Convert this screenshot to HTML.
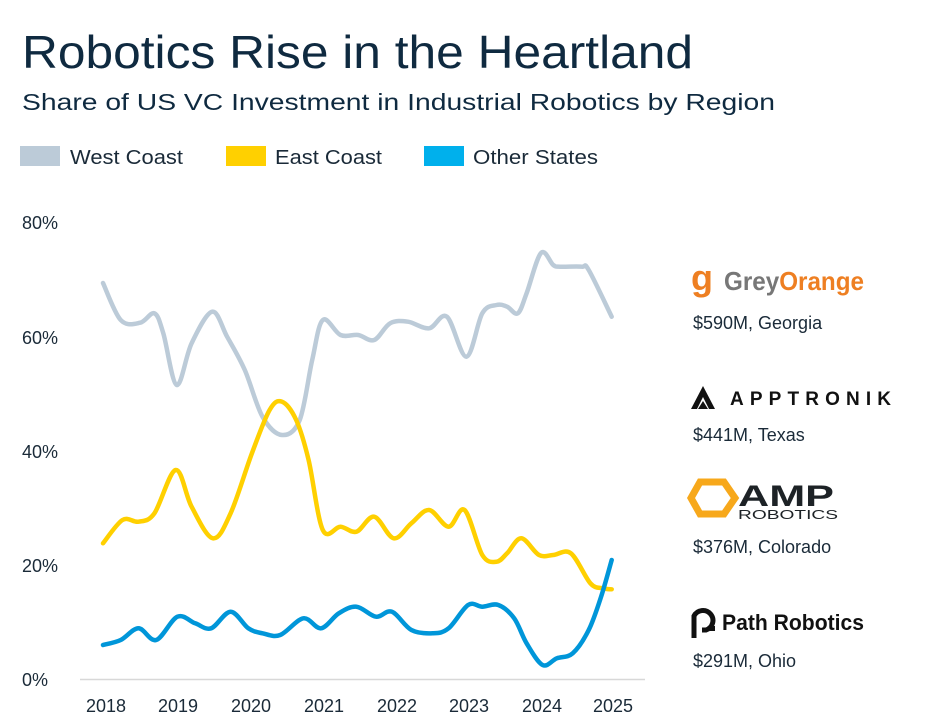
<!DOCTYPE html>
<html><head><meta charset="utf-8"><style>
html,body{margin:0;padding:0;background:#fff;}
svg{display:block;font-family:"Liberation Sans",sans-serif;}
</style></head><body>
<svg width="926" height="728" viewBox="0 0 926 728" xmlns="http://www.w3.org/2000/svg">
<text x="22" y="68" font-size="46" fill="#0f2a40" textLength="671" lengthAdjust="spacingAndGlyphs">Robotics Rise in the Heartland</text>
<text x="22" y="110" font-size="23" fill="#0f2a40" textLength="753" lengthAdjust="spacingAndGlyphs">Share of US VC Investment in Industrial Robotics by Region</text>
<rect x="20" y="146" width="40" height="20" fill="#bccbd8"/>
<text x="70" y="164" font-size="20" fill="#1a2a38" textLength="113" lengthAdjust="spacingAndGlyphs">West Coast</text>
<rect x="226" y="146" width="40" height="20" fill="#ffd000"/>
<text x="275" y="164" font-size="20" fill="#1a2a38" textLength="107" lengthAdjust="spacingAndGlyphs">East Coast</text>
<rect x="424" y="146" width="40" height="20" fill="#00b0ec"/>
<text x="473" y="164" font-size="20" fill="#1a2a38" textLength="125" lengthAdjust="spacingAndGlyphs">Other States</text>
<g font-size="18" fill="#1a2a38">
<text x="22" y="229">80%</text>
<text x="22" y="344">60%</text>
<text x="22" y="458">40%</text>
<text x="22" y="572">20%</text>
<text x="22" y="686">0%</text>
</g>
<line x1="80" y1="679.5" x2="645" y2="679.5" stroke="#d8d8d8" stroke-width="1.5"/>
<g font-size="18" fill="#1a2a38" text-anchor="middle">
<text x="106" y="712">2018</text><text x="178" y="712">2019</text><text x="251" y="712">2020</text>
<text x="324" y="712">2021</text><text x="397" y="712">2022</text><text x="469" y="712">2023</text>
<text x="542" y="712">2024</text><text x="613" y="712">2025</text>
</g>
<path id="gray" fill="none" stroke="#bccbd8" stroke-width="4.5" stroke-linecap="round"/>
<path id="yel" fill="none" stroke="#ffd000" stroke-width="4.5" stroke-linecap="round"/>
<path id="blu" fill="none" stroke="#0096d9" stroke-width="4.5" stroke-linecap="round"/>

<!-- GreyOrange -->
<text x="691" y="290" font-size="36" font-weight="bold" fill="#ee7f22">g</text>
<text x="724" y="290" font-size="26" font-weight="bold" fill="#777" textLength="140" lengthAdjust="spacingAndGlyphs"><tspan>Grey</tspan><tspan fill="#ee7f22">Orange</tspan></text>
<text x="693" y="329" font-size="18" fill="#1a2a38">$590M, Georgia</text>
<!-- Apptronik -->
<path d="M691 409 L703 386 L715 409 L709 409 L703 397 L697 409 Z M698 409 L703 401 L708 409 Z" fill="#111"/>
<text x="730" y="405" font-size="19" font-weight="bold" fill="#111" letter-spacing="9" textLength="170">APPTRONIK</text>
<text x="693" y="441" font-size="18" fill="#1a2a38">$441M, Texas</text>
<!-- AMP -->
<polygon points="700,482 724,482 735,498 724,514 700,514 691,498" fill="none" stroke="#f7a81b" stroke-width="7"/>
<text x="738" y="506" font-size="30" font-weight="bold" fill="#1d2226" textLength="96" lengthAdjust="spacingAndGlyphs">AMP</text>
<text x="738" y="519" font-size="13" fill="#1d2226" textLength="100" lengthAdjust="spacingAndGlyphs">ROBOTICS</text>
<text x="693" y="553" font-size="18" fill="#1a2a38">$376M, Colorado</text>
<!-- Path -->
<path d="M694 638 L694 616 A10 10 0 1 1 706 630 L702 630" fill="none" stroke="#111" stroke-width="5"/>
<rect x="710" y="626" width="5" height="5" fill="#111"/>
<text x="722" y="630" font-size="22" fill="#111" textLength="142" lengthAdjust="spacingAndGlyphs" font-weight="bold">Path Robotics</text>
<text x="693" y="667" font-size="18" fill="#1a2a38">$291M, Ohio</text>
</svg>
<script>
function cr(p){let d="M"+p[0][0]+" "+p[0][1];for(let i=0;i<p.length-1;i++){const p0=p[i-1]||p[i],p1=p[i],p2=p[i+1],p3=p[i+2]||p2;
const c1=[p1[0]+(p2[0]-p0[0])/6,p1[1]+(p2[1]-p0[1])/6],c2=[p2[0]-(p3[0]-p1[0])/6,p2[1]-(p3[1]-p1[1])/6];
d+=" C"+c1.join(" ")+" "+c2.join(" ")+" "+p2.join(" ");}return d;}
const g=[[103,283],[120.7,320],[140.2,322.7],[154.4,313.3],[163.3,333.3],[176.7,385],[191.6,343.3],[212.2,311.7],[227.1,336.7],[244.8,370],[262.5,416.7],[282,435],[299.7,420],[312.2,360],[322.8,320],[340.5,335],[358.2,335],[374.2,340],[390.1,323.3],[407.9,321.7],[429.1,328.3],[446.9,316.7],[466.4,356.7],[482.3,313.3],[496.5,305],[507.1,306.7],[517.8,313.3],[526.6,293.3],[541,253],[553.2,265],[560.3,266.7],[581.6,266.7],[588.7,270],[611.7,316.7]];
const y=[[103,543.3],[122.5,520],[138.5,521.7],[154.4,513.3],[175.7,470],[191.6,506.7],[212.9,538.3],[230.6,513.3],[251.9,453.3],[269.6,410],[282,401.7],[296.2,420],[308.6,460],[322.8,530],[340.5,526.7],[356.5,531.7],[374.2,516.7],[393.7,538.3],[411.4,523.3],[429.1,510],[448.6,526.7],[464.6,510],[482.3,555],[496.5,561.7],[507.1,553.3],[521.3,538.3],[539,555],[553.2,555],[570.9,553.3],[590.4,583.3],[602.8,588.3],[611.7,589.3]];
const b=[[103,645],[120.7,640],[138.5,628.3],[156.2,640],[177.4,616.7],[195.2,623.3],[211.1,628.3],[230.6,611.7],[248.3,628.3],[262.5,633.3],[280.2,635],[303.3,618.3],[321,628.3],[338.8,613.3],[356.5,606.7],[376,616.7],[391.9,611.7],[411.4,630],[432.7,633.3],[448.6,628.3],[468.1,605],[482.3,606.7],[498.3,605],[514.2,618.3],[526.6,643.3],[542.6,665],[556.8,658.3],[572.7,653.3],[588.7,630],[601.1,596.7],[611.7,560]];
document.getElementById("gray").setAttribute("d",cr(g));
document.getElementById("yel").setAttribute("d",cr(y));
document.getElementById("blu").setAttribute("d",cr(b));
</script>
</body></html>
